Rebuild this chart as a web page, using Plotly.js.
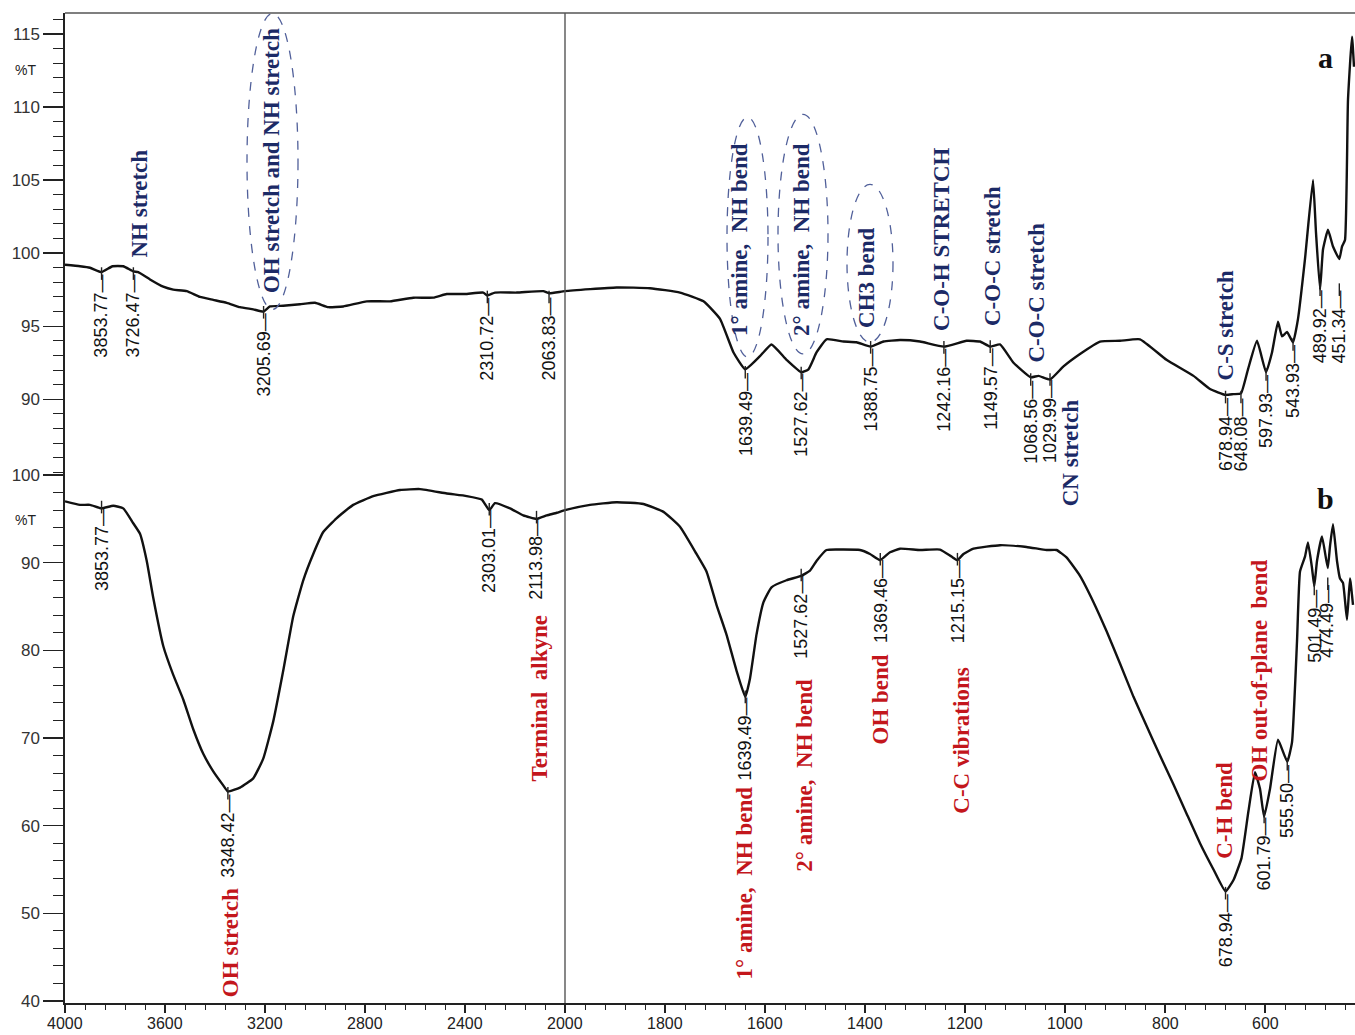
<!DOCTYPE html>
<html><head><meta charset="utf-8">
<script src="https://cdn.plot.ly/plotly-3.0.1.min.js"></script>
<style>html,body{margin:0;padding:0;background:#fff}#chart{width:1355px;height:1035px}</style>
</head><body><div id="chart"></div>
<script>
// ---------- data (wavenumber cm-1, %T) ----------
const wnA = [4000, 3940, 3900, 3853.77, 3810, 3767, 3726.47, 3707, 3660, 3607, 3567, 3513, 3460, 3407, 3353, 3300, 3247, 3205.69, 3180, 3127, 3060, 3000, 2947, 2887, 2793, 2700, 2607, 2527, 2473, 2400, 2327, 2310.72, 2280, 2193, 2087, 2063.83, 2000, 1897, 1830, 1770, 1723, 1690, 1663, 1639.49, 1610, 1587, 1557, 1527.62, 1513, 1497, 1477, 1443, 1417, 1388.75, 1363, 1330, 1290, 1242.16, 1197, 1170, 1149.57, 1130, 1103, 1068.56, 1053, 1029.99, 1003, 970, 930, 890, 850, 797, 743, 710, 678.94, 663, 648.08, 634, 616, 597.93, 586, 574, 566, 556, 543.93, 534, 520, 504, 498, 489.92, 484, 474, 464, 451.34, 446, 440, 434, 426, 422];
const tA = [99.2, 99.1, 99.0, 98.7, 99.1, 99.1, 98.75, 98.7, 98.2, 97.7, 97.5, 97.4, 97.0, 96.8, 96.6, 96.3, 96.15, 96.0, 96.35, 96.4, 96.5, 96.6, 96.3, 96.35, 96.7, 96.7, 96.95, 96.95, 97.2, 97.2, 97.3, 97.1, 97.3, 97.3, 97.4, 97.25, 97.4, 97.65, 97.6, 97.3, 96.7, 95.5, 93.2, 92.05, 92.95, 93.75, 92.7, 91.85, 92.05, 93.2, 94.1, 93.95, 93.9, 93.6, 93.95, 94.05, 93.95, 93.6, 94.0, 93.95, 93.6, 93.75, 92.5, 91.5, 91.6, 91.35, 92.25, 93.1, 93.95, 94.0, 94.1, 92.7, 91.6, 90.7, 90.3, 90.35, 90.4, 92.05, 94.0, 91.85, 93.2, 95.3, 94.3, 94.6, 93.9, 95.5, 99.6, 105.0, 101.4, 97.5, 100.25, 101.6, 100.45, 99.6, 100.45, 100.9, 110.5, 114.8, 112.75];

const wnB = [4000, 3940, 3900, 3853.77, 3807, 3767, 3727, 3700, 3673, 3647, 3607, 3567, 3527, 3487, 3447, 3407, 3367, 3348.42, 3300, 3247, 3207, 3167, 3127, 3087, 3047, 3007, 2967, 2913, 2847, 2767, 2660, 2580, 2473, 2393, 2333, 2303.01, 2280, 2220, 2167, 2113.98, 2073, 2033, 2000, 1950, 1897, 1843, 1803, 1770, 1737, 1717, 1697, 1677, 1657, 1639.49, 1630, 1617, 1603, 1587, 1557, 1527.62, 1510, 1497, 1477, 1443, 1410, 1390, 1369.46, 1350, 1330, 1290, 1250, 1227, 1215.15, 1203, 1183, 1130, 1077, 1037, 1017, 997, 970, 943, 917, 890, 863, 837, 810, 783, 757, 730, 703, 678.94, 663, 647, 633, 620, 610, 601.79, 590, 574, 555.5, 546, 536, 530, 520, 514, 506, 501.49, 496, 486, 474.49, 470, 464, 456, 450, 444, 436, 430, 424];
const tB = [97.0, 96.6, 96.6, 96.2, 96.5, 96.2, 94.5, 93.3, 90.2, 86.0, 80.5, 77.2, 74.4, 71.0, 68.2, 66.2, 64.6, 63.9, 64.35, 65.4, 67.65, 71.9, 77.7, 83.9, 88.0, 91.0, 93.5, 95.1, 96.6, 97.6, 98.3, 98.4, 97.9, 97.6, 97.2, 96.0, 96.8, 96.2, 95.4, 95.0, 95.4, 95.7, 96.0, 96.6, 96.9, 96.7, 95.8, 94.1, 91.0, 89.0, 85.2, 81.8, 77.7, 74.7, 76.8, 81.8, 85.5, 87.2, 88.0, 88.5, 89.1, 90.2, 91.45, 91.5, 91.45, 91.0, 90.3, 91.2, 91.6, 91.45, 91.5, 90.7, 90.3, 91.0, 91.6, 92.0, 91.8, 91.45, 91.45, 90.6, 88.5, 85.5, 82.2, 78.5, 74.7, 71.4, 68.0, 64.7, 61.4, 58.0, 55.0, 52.5, 53.8, 56.3, 61.7, 66.1, 64.2, 61.0, 64.2, 69.8, 67.3, 69.5, 81.0, 89.0, 90.7, 92.3, 89.4, 87.3, 90.2, 93.0, 89.4, 91.9, 94.4, 90.2, 88.2, 87.7, 83.5, 88.2, 85.2];

const peakWnA = [3853.77, 3726.47, 3205.69, 2310.72, 2063.83, 1639.49, 1527.62, 1388.75, 1242.16, 1149.57, 1068.56, 1029.99, 678.94, 648.08, 597.93, 543.93, 489.92, 451.34];
const peakTA  = [98.6, 98.6, 95.95, 97.0, 97.0, 91.85, 91.8, 93.55, 93.55, 93.6, 91.35, 91.35, 90.15, 90.15, 91.7, 93.75, 97.5, 97.5];
const peakWnB = [3853.77, 3348.42, 2303.01, 2113.98, 1639.49, 1527.62, 1369.46, 1215.15, 678.94, 601.79, 555.50, 501.49, 474.49];
const peakTB  = [96.35, 63.7, 96.1, 95.2, 74.7, 88.6, 90.4, 90.4, 52.3, 61.0, 67.0, 87.0, 87.6];

const xTickWn = [4000, 3600, 3200, 2800, 2400, 2000, 1800, 1600, 1400, 1200, 1000, 800, 600];
const yTicksA = [90, 95, 100, 105, 110, 115];
const yTicksB = [40, 50, 60, 70, 80, 90, 100];

const labelsA = ["NH stretch", "OH stretch and NH stretch", "1° amine,\u00a0\u00a0NH bend", "2° amine,\u00a0\u00a0NH bend", "CH3 bend", "C-O-H STRETCH", "C-O-C stretch", "C-O-C stretch", "CN stretch", "C-S stretch"];
const labelsB = ["OH stretch", "Terminal\u00a0\u00a0alkyne", "1° amine,\u00a0\u00a0NH bend", "2° amine,\u00a0\u00a0NH bend", "OH bend", "C-C vibrations", "C-H bend", "OH out-of-plane\u00a0\u00a0bend"];

// axis transform: the scale above 2000 cm-1 is compressed 2x
function ax(w) { return w <= 2000 ? w : 2000 + (w - 2000) / 2; }

// ---------- layout helpers ----------
const BLUE = '#1c2a66', RED = '#c3161c', ELL = '#51609a';
const SANS = 'Liberation Sans, Arial, sans-serif';
const SERIF = 'Liberation Serif, Times New Roman, serif';

// positions for group labels: [wavenumber, %T center]
const posA = [[3704, 103.4], [3176, 106.3], [1650, 100.9], [1526, 100.9], [1396, 98.3], [1246, 100.9], [1146, 99.8], [1056, 97.3], [990, 86.3], [680, 95.05]];
const posB = [[3340, 46.6], [2100, 74.5], [1640, 53.4], [1520, 65.7], [1370, 74.4], [1206, 69.7], [680, 61.7], [610, 77.7]];

const annotations = [];
peakWnA.forEach((w, i) => annotations.push({
  x: ax(w), y: peakTA[i], xref: 'x', yref: 'y2', text: w.toFixed(2) + '\u2014',
  textangle: -90, xanchor: 'center', yanchor: 'top', showarrow: false, yshift: 1,
  font: {family: SANS, size: 18, color: '#111'}
}));
peakWnB.forEach((w, i) => annotations.push({
  x: ax(w), y: peakTB[i], xref: 'x', yref: 'y', text: w.toFixed(2) + '\u2014',
  textangle: -90, xanchor: 'center', yanchor: 'top', showarrow: false, yshift: 1,
  font: {family: SANS, size: 18, color: '#111'}
}));
labelsA.forEach((t, i) => annotations.push({
  x: ax(posA[i][0]), y: posA[i][1], xref: 'x', yref: 'y2', text: '<b>' + t + '</b>',
  textangle: -90, xanchor: 'center', yanchor: 'middle', showarrow: false,
  font: {family: SERIF, size: 23, color: BLUE}
}));
labelsB.forEach((t, i) => annotations.push({
  x: ax(posB[i][0]), y: posB[i][1], xref: 'x', yref: 'y', text: '<b>' + t + '</b>',
  textangle: -90, xanchor: 'center', yanchor: 'middle', showarrow: false,
  font: {family: SERIF, size: 23, color: RED}
}));
// x tick labels
xTickWn.forEach(w => annotations.push({
  x: ax(w), y: 0, xref: 'x', yref: 'paper', text: String(w), showarrow: false,
  xanchor: 'center', yanchor: 'middle', yshift: -20,
  font: {family: SANS, size: 16, color: '#222'}
}));
annotations.push({x: 0, y: 112.55, xref: 'paper', yref: 'y2', text: '%T', xanchor: 'right', xshift: -27, showarrow: false, font: {family: SANS, size: 14, color: '#222'}});
annotations.push({x: 0, y: 94.9, xref: 'paper', yref: 'y', text: '%T', xanchor: 'right', xshift: -27, showarrow: false, font: {family: SANS, size: 14, color: '#222'}});
annotations.push({x: ax(480), y: 113.4, xref: 'x', yref: 'y2', text: '<b>a</b>', showarrow: false, font: {family: SERIF, size: 30, color: '#111'}});
annotations.push({x: ax(480), y: 97.3, xref: 'x', yref: 'y', text: '<b>b</b>', showarrow: false, font: {family: SERIF, size: 30, color: '#111'}});

function ellipse(w0, w1, t0, t1) {
  return {type: 'circle', xref: 'x', yref: 'y2', x0: ax(w0), x1: ax(w1), y0: t0, y1: t1,
          line: {color: ELL, width: 1.3, dash: 'dash'}};
}
const shapes = [
  ellipse(3272, 3068, 96.15, 116.4),
  ellipse(1676, 1594, 92.9, 109.3),
  ellipse(1574, 1474, 93.1, 109.5),
  ellipse(1436, 1344, 93.9, 104.7),
  {type: 'line', xref: 'x', yref: 'paper', x0: ax(2000), x1: ax(2000), y0: 0, y1: 1, line: {color: '#555', width: 1.4}},
  {type: 'line', xref: 'paper', yref: 'paper', x0: 0, x1: 1, y0: 1, y1: 1, line: {color: '#555', width: 1.6}}
];

const mk = {symbol: 'line-ns-open', size: 9, color: '#222', line: {width: 1.4, color: '#222'}};
const traces = [
  {x: wnA.map(ax), y: tA, xaxis: 'x', yaxis: 'y2', mode: 'lines', line: {color: '#111', width: 2.4, shape: 'spline', smoothing: 0.4}, hoverinfo: 'skip'},
  {x: wnB.map(ax), y: tB, xaxis: 'x', yaxis: 'y', mode: 'lines', line: {color: '#111', width: 2.4, shape: 'spline', smoothing: 0.4}, hoverinfo: 'skip'},
  {x: peakWnA.map(ax), y: peakTA, xaxis: 'x', yaxis: 'y2', mode: 'markers', marker: mk, hoverinfo: 'skip'},
  {x: peakWnB.map(ax), y: peakTB, xaxis: 'x', yaxis: 'y', mode: 'markers', marker: mk, hoverinfo: 'skip'}
];

const yCommon = {
  showline: true, linecolor: '#222', linewidth: 1.6, ticks: 'outside', ticklen: 20, tickwidth: 1.3, tickcolor: '#222',
  showgrid: false, zeroline: false, tickmode: 'array', anchor: 'x',
  tickfont: {family: SANS, size: 17, color: '#333'}
};

const layout = {
  width: 1355, height: 1035,
  margin: {l: 65, r: 0, t: 13, b: 32, pad: 0},
  paper_bgcolor: '#fff', plot_bgcolor: '#fff', showlegend: false,
  xaxis: {
    range: [ax(4000), 420], tickmode: 'array', tickvals: xTickWn.map(ax), showticklabels: false,
    ticks: 'outside', ticklen: 8, tickwidth: 1.3, tickcolor: '#222',
    showline: true, linecolor: '#222', linewidth: 1.6, showgrid: false, zeroline: false, anchor: 'y',
    minor: {tickmode: 'linear', tick0: 0, dtick: 40, ticks: 'outside', ticklen: 5, tickwidth: 1, tickcolor: '#222', showgrid: false}
  },
  yaxis: Object.assign({}, yCommon, {
    domain: [0, 0.5353], range: [39.77, 100.23], tickvals: yTicksB,
    minor: {tickmode: 'linear', tick0: 0, dtick: 2, ticks: 'outside', ticklen: 10, tickwidth: 1, tickcolor: '#222', showgrid: false}
  }),
  yaxis2: Object.assign({}, yCommon, {
    domain: [0.5353, 1], range: [84.95, 116.43], tickvals: yTicksA,
    minor: {tickmode: 'linear', tick0: 0, dtick: 1, ticks: 'outside', ticklen: 10, tickwidth: 1, tickcolor: '#222', showgrid: false}
  }),
  annotations: annotations,
  shapes: shapes
};

Plotly.newPlot('chart', traces, layout, {displayModeBar: false, staticPlot: true});
</script>
</body></html>
